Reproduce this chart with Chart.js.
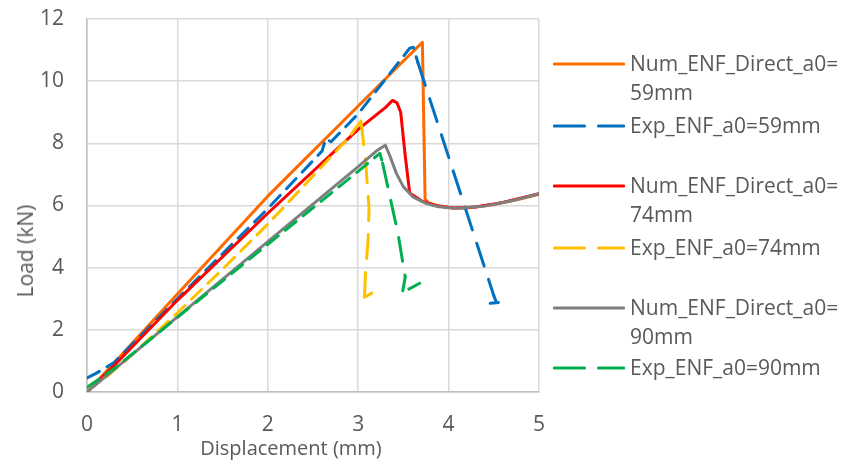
<!DOCTYPE html>
<html>
<head>
<meta charset="utf-8">
<script src="https://cdn.jsdelivr.net/npm/chart.js@4.4.0/dist/chart.umd.min.js"></script>
<style>
    body { margin: 0; background: #fff; }
    #wrap { position: relative; width: 847px; height: 462px; font-family: "Open Sans", sans-serif; color: #595959; }
    #chartArea { position: absolute; left: 0; top: 0; }
    .axTitle { position: absolute; font-size: 21px; line-height: 26px; white-space: nowrap; }
    #yTitle { left: 25px; top: 251px; transform: translate(-50%, -50%) rotate(-90deg); }
    #xTitle { left: 291px; top: 448px; font-size: 20px; transform: translate(-50%, -50%); }
    .lgItem { position: absolute; left: 553px; width: 294px; }
    .lgItem svg { position: absolute; left: 0; top: 13px; }
    .lgItem span { position: absolute; left: 77px; top: 0; font-size: 21px; line-height: 29px; white-space: nowrap; }
</style>
</head>
<body>
<div id="wrap">
    <canvas id="chartArea" width="847" height="462"></canvas>
    <div class="axTitle" id="yTitle">Load (kN)</div>
    <div class="axTitle" id="xTitle">Displacement (mm)</div>
    <div id="divLegend"></div>
</div>
<script>
var seriesLabels = ["Num_ENF_Direct_a0=59mm", "Exp_ENF_a0=59mm", "Num_ENF_Direct_a0=74mm", "Exp_ENF_a0=74mm", "Num_ENF_Direct_a0=90mm", "Exp_ENF_a0=90mm"];
var seriesColors = ["#FF6A00", "#0070C0", "#FF0000", "#FFC000", "#7F7F7F", "#00B050"];
var seriesDashed = [false, true, false, true, false, true];

var num59X = [0, 0.3, 1, 2, 3, 3.5, 3.71, 3.74, 3.78, 3.9, 4.05, 4.2, 4.5, 4.8, 5];
var num59Y = [0, 0.93, 3.15, 6.3, 9.2, 10.65, 11.25, 6.2, 6.08, 5.98, 5.92, 5.92, 6.03, 6.22, 6.36];
var exp59X = [0, 0.1, 0.3, 1, 2, 2.6, 2.64, 2.7, 3, 3.57, 3.61, 3.66, 4.5, 4.53, 4.45, 4.55];
var exp59Y = [0.45, 0.6, 0.95, 3.0, 5.9, 7.75, 8.15, 8.05, 8.95, 11.06, 11.09, 10.6, 3.1, 2.87, 2.85, 2.88];
var num74X = [0, 0.3, 1, 2, 3, 3.3, 3.38, 3.43, 3.47, 3.52, 3.57, 3.7, 3.85, 4.05, 4.3, 4.6, 5];
var num74Y = [0, 0.85, 2.95, 5.75, 8.45, 9.15, 9.38, 9.3, 9.0, 7.6, 6.4, 6.15, 6.0, 5.92, 5.95, 6.1, 6.38];
var exp74X = [0, 0.2, 0.5, 1, 1.5, 2, 2.5, 2.9, 3.03, 3.08, 3.12, 3.11, 3.08, 3.07, 3.15];
var exp74Y = [0.1, 0.45, 1.2, 2.55, 3.95, 5.4, 6.95, 8.2, 8.72, 7.5, 5.9, 4.9, 3.8, 3.05, 3.18];
var num90X = [0, 1, 2, 3, 3.2, 3.3, 3.35, 3.42, 3.5, 3.61, 3.75, 3.87, 4.0, 4.13, 4.4, 4.7, 5];
var num90Y = [0, 2.42, 4.84, 7.25, 7.75, 7.94, 7.6, 7.05, 6.6, 6.27, 6.07, 5.97, 5.93, 5.92, 5.98, 6.15, 6.38];
var exp90X = [0, 0.3, 1, 2, 3, 3.24, 3.27, 3.44, 3.52, 3.49, 3.68];
var exp90Y = [0.15, 0.75, 2.4, 4.75, 7.1, 7.68, 7.36, 5.1, 3.7, 3.2, 3.5];

var xTicks = [0, 1, 2, 3, 4, 5];
var yTicks = [0, 2, 4, 6, 8, 10, 12];

var allX = [num59X, exp59X, num74X, exp74X, num90X, exp90X];
var allY = [num59Y, exp59Y, num74Y, exp74Y, num90Y, exp90Y];

function toPoints(xs, ys) {
    var pts = [];
    for (var i = 0; i < xs.length; i++) {
        pts.push({ x: xs[i], y: ys[i] });
    }
    return pts;
}

// Excel restarts the dash on each segment: long straight drops show longer dashes
function dropDash(c) {
    return c.p1.parsed.y < c.p0.parsed.y - 0.5 ? [24, 14] : [14, 9];
}

var datasets = [];
for (var i = 0; i < seriesLabels.length; i++) {
    var ds = {
        label: seriesLabels[i],
        data: toPoints(allX[i], allY[i]),
        borderColor: seriesColors[i],
        backgroundColor: seriesColors[i],
        borderWidth: 3,
        borderDash: seriesDashed[i] ? [14, 9] : [],
        borderCapStyle: 'round',
        borderJoinStyle: 'round',
        showLine: true,
        pointRadius: 0,
        tension: 0,
        order: seriesLabels.length - i
    };
    if (seriesDashed[i]) {
        ds.segment = { borderDash: dropDash };
    }
    datasets.push(ds);
}

var tickFont = { family: "Open Sans", size: 21 };

var config = {
    type: 'scatter',
    data: { datasets: datasets },
    options: {
        responsive: false,
        animation: false,
        events: [],
        layout: { padding: { left: 0, right: 308, top: 19, bottom: 0 } },
        plugins: {
            legend: { display: false },
            tooltip: { enabled: false },
            title: { display: false }
        },
        scales: {
            x: {
                type: 'linear',
                min: 0,
                max: 5,
                afterBuildTicks: function (scale) {
                    scale.ticks = xTicks.map(function (v) { return { value: v }; });
                },
                afterFit: function (scale) { scale.height = 70; },
                ticks: { color: '#595959', font: tickFont, padding: 20, maxRotation: 0 },
                grid: { color: '#D9D9D9', lineWidth: 1.5, drawTicks: false },
                border: { color: '#BFBFBF', width: 1.5 }
            },
            y: {
                type: 'linear',
                min: 0,
                max: 12,
                afterBuildTicks: function (scale) {
                    scale.ticks = yTicks.map(function (v) { return { value: v }; });
                },
                afterFit: function (scale) {
                    scale.width = 87;
                    scale.paddingTop = 0;
                    scale.paddingBottom = 0;
                },
                ticks: { color: '#595959', font: tickFont, padding: 23 },
                grid: { color: '#D9D9D9', lineWidth: 1.5, drawTicks: false },
                border: { color: '#BFBFBF', width: 1.5 }
            }
        }
    }
};

var ctx = document.getElementById('chartArea').getContext('2d');
var myNewChart = new Chart(ctx, config);

// legend, built from the same series lists
var lgTops = [49, 111, 171, 233, 293, 353];
var lgHtml = "";
for (var j = 0; j < seriesLabels.length; j++) {
    var txt = seriesLabels[j].replace("Direct_a0=", "Direct_a0=<br>");
    var dash = seriesDashed[j] ? ' stroke-dasharray="30 14"' : '';
    lgHtml += '<div class="lgItem" style="top:' + lgTops[j] + 'px">' +
        '<svg width="72" height="4"><line x1="1.5" y1="2" x2="70.5" y2="2" stroke="' + seriesColors[j] +
        '" stroke-width="3.2" stroke-linecap="round"' + dash + '/></svg>' +
        '<span>' + txt + '</span></div>';
}
document.getElementById('divLegend').innerHTML = lgHtml;
</script>
</body>
</html>
